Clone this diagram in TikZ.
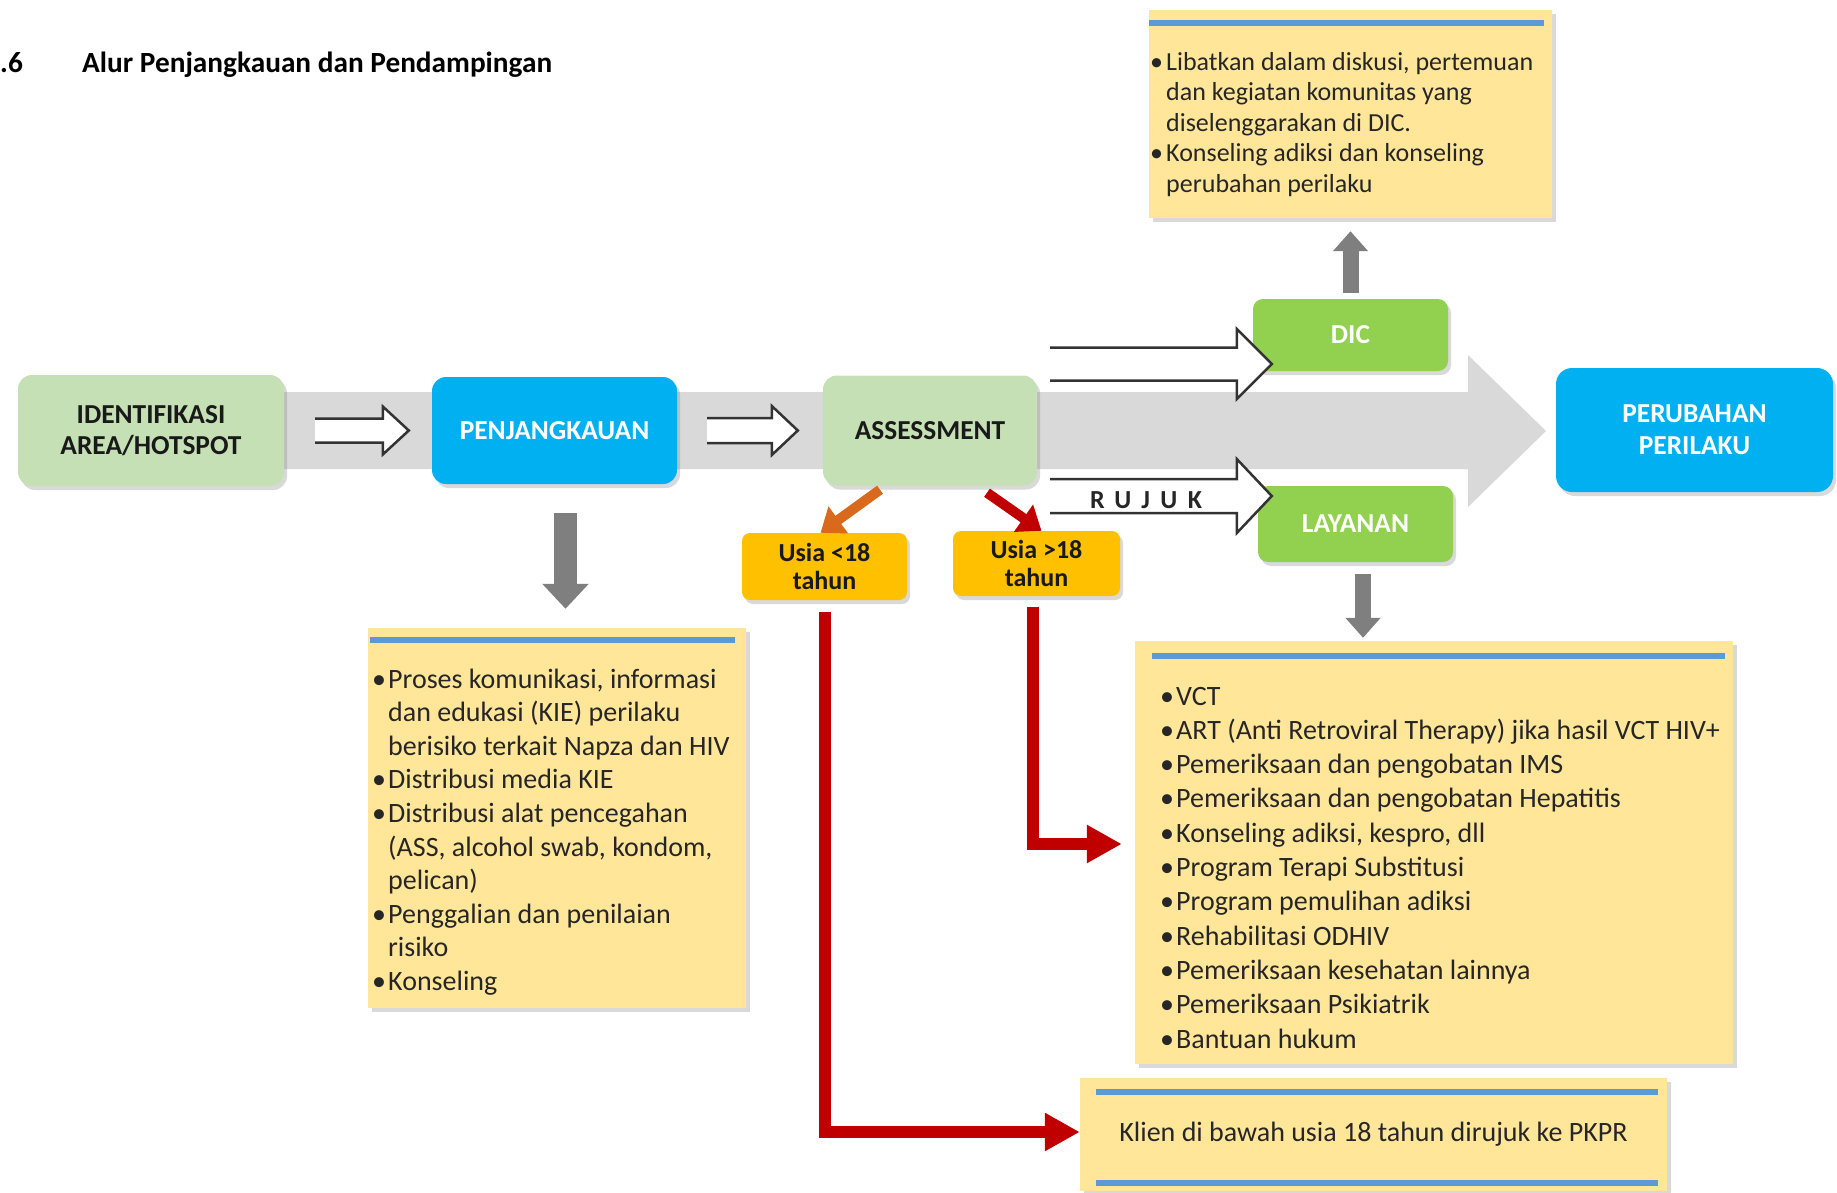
\documentclass[tikz,border=0pt]{standalone}
\usepackage{fontspec}
\setmainfont{Carlito}
\usetikzlibrary{positioning}
\usetikzlibrary{calc}
\usetikzlibrary{shadows}
\usetikzlibrary{arrows.meta}

\definecolor{boxgreen}{HTML}{C5E0B4}
\definecolor{limegreen}{HTML}{92D050}
\definecolor{skyblue}{HTML}{00B0F0}
\definecolor{amber}{HTML}{FFC000}
\definecolor{bandgray}{HTML}{D9D9D9}
\definecolor{arrowgray}{HTML}{7F7F7F}
\definecolor{notefill}{HTML}{FFE699}
\definecolor{lineblue}{HTML}{5B9BD5}
\definecolor{darkred}{HTML}{C00000}
\definecolor{rust}{HTML}{D9691C}

\newcommand{\bl}{\makebox[16pt][l]{\textbullet}}
\newcommand{\ind}{\hspace*{16pt}}
% hollow block arrow: start, tip, shaft half, head half, head length
\newcommand{\hollowarrow}[5]{%
  \fill[white] ($(#1)+(0,-#3)$) -- ($(#2)+(-#5,-#3)$) -- ($(#2)+(-#5,-#4)$) -- (#2)
    -- ($(#2)+(-#5,#4)$) -- ($(#2)+(-#5,#3)$) -- ($(#1)+(0,#3)$) -- cycle;
  \draw[hollow] ($(#1)+(0,-#3)$) -- ($(#2)+(-#5,-#3)$) -- ($(#2)+(-#5,-#4)$) -- (#2)
    -- ($(#2)+(-#5,#4)$) -- ($(#2)+(-#5,#3)$) -- ($(#1)+(0,#3)$);
}

\begin{document}
\begin{tikzpicture}[
    x=1pt, y=-1pt,
    font=\bfseries\fontsize{27.4}{31.6}\selectfont
]
\tikzset{
    boxg/.style = {rounded corners=14pt, fill=boxgreen, text=black!90, align=center, inner sep=0pt,
                   drop shadow={shadow xshift=3pt, shadow yshift=-4pt, opacity=0.3}},
    boxb/.style = {boxg, fill=skyblue, text=white},
    boxl/.style = {boxg, fill=limegreen, text=white, rounded corners=10pt},
    boxa/.style = {boxg, fill=amber, rounded corners=8pt, font=\bfseries\fontsize{26}{28.3}\selectfont},
    note/.style = {fill=notefill, inner sep=0pt,
                   drop shadow={shadow xshift=4pt, shadow yshift=-4pt, opacity=0.3}},
    noteline/.style = {line width=6pt, lineblue},
    notetext/.style = {anchor=base west, align=left, inner sep=0pt, text=black!85,
                       font=\mdseries\fontsize{28}{33.6}\selectfont},
    edgeg/.style = {-{Triangle[length=20pt,width=34pt]}, line width=16pt, arrowgray},
    edger/.style = {-{Triangle[length=35pt,width=36pt]}, line width=12pt, darkred},
    edgeo/.style = {-{Triangle[length=22pt,width=32pt]}, line width=10pt, rust},
    hollow/.style = {line width=2.5pt, black!80}
}
\useasboundingbox (0,0) rectangle (1837,1192);

% title
\node[anchor=base west, inner sep=0pt, font=\bfseries\fontsize{29.3}{34}\selectfont] at (0,72.6) (num) {.6};
\node[anchor=base west, inner sep=0pt, font=\bfseries\fontsize{29.3}{34}\selectfont] at (82,72.6) (title) {Alur Penjangkauan dan Pendampingan};

% grey band behind the main flow
\fill[bandgray] (18,392) -- (1468,392) -- (1468,355) -- (1546,431) -- (1468,507) -- (1468,469) -- (18,469) -- cycle;

% main boxes
\node[boxg, minimum width=266pt, minimum height=111pt] at (151,430.5) (idf) {IDENTIFIKASI\\AREA/HOTSPOT};
\node[boxb, minimum width=245pt, minimum height=107pt] at (554.5,430.5) (pnj) {PENJANGKAUAN};
\node[boxg, minimum width=214pt, minimum height=110pt] at (930,430.5) (ass) {ASSESSMENT};
\node[boxl, minimum width=195pt, minimum height=72pt] at (1350.5,335) (dic) {DIC};
\node[boxl, minimum width=195pt, minimum height=76pt] at (1355.5,524) (lay) {LAYANAN};
\node[boxb, minimum width=277pt, minimum height=124pt, rounded corners=16pt] at (1694.5,430) (per) {PERUBAHAN\\PERILAKU};
\node[boxa, minimum width=165pt, minimum height=67pt] at (824.5,566.5) (u18) {Usia <18\\tahun};
\node[boxa, minimum width=167pt, minimum height=65pt] at (1036.5,563.5) (o18) {Usia >18\\tahun};

% note boxes
\node[note, minimum width=403pt, minimum height=208pt] at (1350.5,114) (dicn) {};
\node[note, minimum width=378pt, minimum height=380pt] at (557,818) (kie) {};
\node[note, minimum width=598pt, minimum height=423pt] at (1434,852.5) (svc) {};
\node[note, minimum width=587pt, minimum height=113pt, text=black!85,
      font=\mdseries\fontsize{28}{33.6}\selectfont] at (1373.5,1134.5) (pkpr) {Klien di bawah usia 18 tahun dirujuk ke PKPR};
\draw[noteline] ([yshift=-13pt]dicn.north west) -- ([xshift=-8pt,yshift=-13pt]dicn.north east);
\draw[noteline] ([xshift=2pt,yshift=-12.5pt]kie.north west) -- ([xshift=-11pt,yshift=-12.5pt]kie.north east);
\draw[noteline] ([xshift=17pt,yshift=-15pt]svc.north west) -- ([xshift=-8pt,yshift=-15pt]svc.north east);
\draw[noteline] ([xshift=16pt,yshift=-14pt]pkpr.north west) -- ([xshift=-9pt,yshift=-14pt]pkpr.north east);
\draw[noteline] ([xshift=16pt,yshift=8pt]pkpr.south west) -- ([xshift=-9pt,yshift=8pt]pkpr.south east);

% list texts, placed by the baseline of their last line
\node[notetext, font=\mdseries\fontsize{26}{30.5}\selectfont] at (1150,192) (dictxt)
  {\bl Libatkan dalam diskusi, pertemuan\\ \ind dan kegiatan komunitas yang\\ \ind diselenggarakan di DIC.\\
   \bl Konseling adiksi dan konseling\\ \ind perubahan perilaku};
\node[notetext] at (372,990.4) (kietxt)
  {\bl Proses komunikasi, informasi\\ \ind dan edukasi (KIE) perilaku\\ \ind berisiko terkait Napza dan HIV\\
   \bl Distribusi media KIE\\
   \bl Distribusi alat pencegahan\\ \ind (ASS, alcohol swab, kondom,\\ \ind pelican)\\
   \bl Penggalian dan penilaian\\ \ind risiko\\
   \bl Konseling};
\node[notetext, font=\mdseries\fontsize{28}{34.3}\selectfont] at (1160,1048) (svctxt)
  {\bl VCT\\
   \bl ART (Anti Retroviral Therapy) jika hasil VCT HIV+\\
   \bl Pemeriksaan dan pengobatan IMS\\
   \bl Pemeriksaan dan pengobatan Hepatitis\\
   \bl Konseling adiksi, kespro, dll\\
   \bl Program Terapi Substitusi\\
   \bl Program pemulihan adiksi\\
   \bl Rehabilitasi ODHIV\\
   \bl Pemeriksaan kesehatan lainnya\\
   \bl Pemeriksaan Psikiatrik\\
   \bl Bantuan hukum};

% hollow arrows
\coordinate (h1a) at ([xshift=31pt]idf.east);
\coordinate (h1b) at ([xshift=-23pt]pnj.west);
\coordinate (h2a) at ([xshift=30pt]pnj.east);
\coordinate (h2b) at ([xshift=-25pt]ass.west);
\coordinate (h3a) at ([xshift=13pt,yshift=66.5pt]ass.east);
\coordinate (h3b) at ([xshift=19pt,yshift=-29pt]dic.west);
\coordinate (h4a) at ([xshift=13pt,yshift=-65.5pt]ass.east);
\coordinate (h4b) at ([xshift=14pt,yshift=28pt]lay.west);
\hollowarrow{h1a}{h1b}{12}{24}{26}
\hollowarrow{h2a}{h2b}{12.5}{24.5}{26}
\hollowarrow{h3a}{h3b}{16.5}{35}{35}
\hollowarrow{h4a}{h4b}{17}{37}{35}
\node[inner sep=0pt, text=black!85,
      font=\bfseries\fontsize{26}{30}\selectfont\addfontfeatures{LetterSpace=40}] at (1146,500) (rujuk) {RUJUK};

% solid arrows
\draw[edgeg, line width=23pt, -{Triangle[length=25pt,width=45pt]}] ([xshift=11pt,yshift=-29pt]pnj.south) -- ([xshift=8.5pt,yshift=19pt]kie.north);
\draw[edgeg] ([yshift=6pt]dic.north) -- ([yshift=-13pt]dicn.south);
\draw[edgeg] ([xshift=7.5pt,yshift=-12pt]lay.south) -- ([xshift=-71pt,yshift=3pt]svc.north);
\draw[edgeo] ([xshift=-50pt,yshift=-4pt]ass.south) -- ([xshift=-4pt]u18.north);
\draw[edgeo, darkred] ([xshift=57pt,yshift=-7pt]ass.south) -- ([xshift=5pt]o18.north);
\draw[edger] ([yshift=-12pt]u18.south) |- ([yshift=2.5pt]pkpr.west);
\draw[edger] ([xshift=-3.5pt,yshift=-11pt]o18.south) |- ([xshift=-13pt,yshift=8.5pt]svc.west);
\end{tikzpicture}
\end{document}
